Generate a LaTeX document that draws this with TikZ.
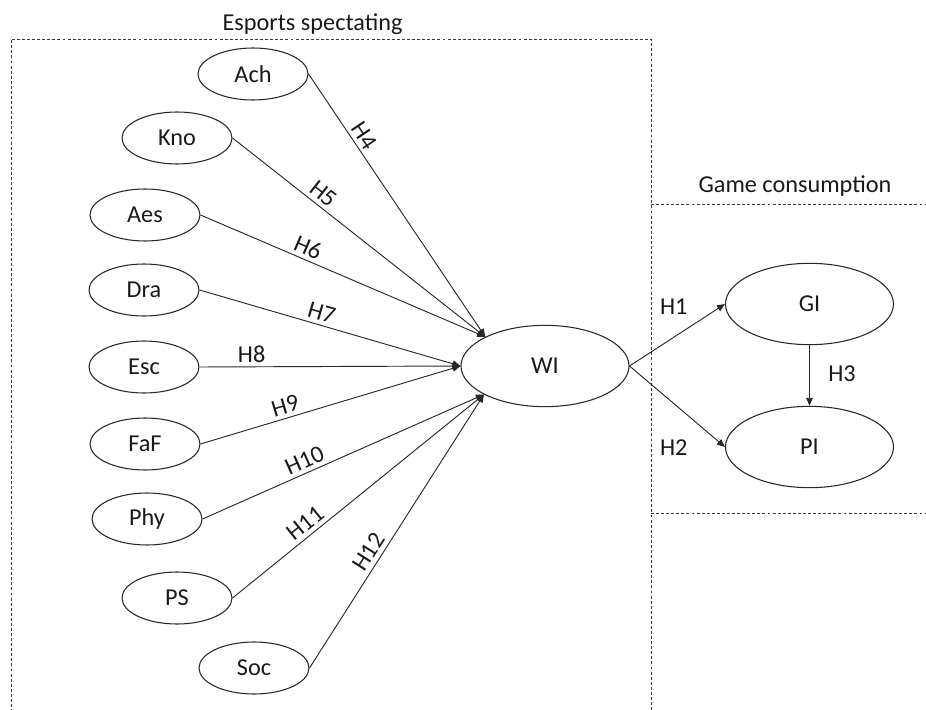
\documentclass[tikz,border=0pt]{standalone}
\usepackage{fontspec}
\setmainfont{Carlito}
\usetikzlibrary{shapes.geometric,arrows.meta}
\definecolor{linec}{RGB}{40,40,40}
\definecolor{boxc}{RGB}{60,60,60}
\definecolor{txtc}{RGB}{25,25,25}
\begin{document}
\begin{tikzpicture}[x=0.75pt,y=-0.75pt,
  font=\fontsize{18.2pt}{22pt}\selectfont, text=txtc,
  ell/.style={ellipse,draw=linec,line width=0.8pt,minimum width=82.5pt,minimum height=39pt,inner sep=0pt},
  bigell/.style={ell,minimum width=126pt,minimum height=61pt},
  conn/.style={draw=linec,line width=0.7pt,-{Triangle[length=6pt,width=5pt]}},
  hlab/.style={sloped,above,inner sep=3pt},
  boxline/.style={draw=boxc,line width=0.7pt,dash pattern=on 2.2pt off 1.6pt}]
\useasboundingbox (0,0) rectangle (926,710);

% dashed frames
\draw[boxline] (11,712) -- (11,39) -- (651,39) -- (651,712);
\draw[boxline] (651,204) -- (928,204);
\draw[boxline] (651,513) -- (928,513);
\node[anchor=base] (t1) at (312.5,31) {Esports spectating};
\node[anchor=base] (t2) at (795,193) {Game consumption};

% nodes
\node[ell] (ach) at (253,74) {Ach};
\node[ell] (kno) at (177,138) {Kno};
\node[ell] (aes) at (145,215) {Aes};
\node[ell] (dra) at (144,290) {Dra};
\node[ell] (esc) at (144,367) {Esc};
\node[ell] (faf) at (145,444) {FaF};
\node[ell] (phy) at (147,519) {Phy};
\node[ell] (ps) at (177,598) {PS};
\node[ell] (soc) at (254,668) {Soc};
\node[bigell] (wi) at (545,366) {WI};
\node[bigell] (gi) at (809.5,304) {GI};
\node[bigell] (pi) at (809.5,447) {PI};

% connectors
\draw[conn] (ach.east) -- node[hlab,pos=0.26]{H4} (wi.154.6);
\draw[conn] (kno.east) -- node[hlab,pos=0.33]{H5} (wi.154.6);
\draw[conn] (aes.east) -- node[hlab,pos=0.36]{H6} (wi.154.6);
\draw[conn] (dra.east) -- node[hlab,pos=0.455]{H7} (wi.west);
\draw[conn] (esc.east) -- node[hlab,pos=0.2]{H8} (wi.west);
\draw[conn] (faf.east) -- node[hlab,pos=0.34]{H9} (wi.west);
\draw[conn] (phy.east) -- node[hlab,pos=0.38]{H10} (wi.205.4);
\draw[conn] (ps.east) -- node[hlab,pos=0.32]{H11} (wi.205.4);
\draw[conn] (soc.east) -- node[hlab,pos=0.40]{H12} (wi.205.4);

\draw[conn] (wi.east) -- node[pos=0.464,yshift=23pt]{H1} (gi.west);
\draw[conn] (wi.east) -- node[pos=0.464,yshift=-33.4pt]{H2} (pi.west);
\draw[conn] (gi.south) -- node[xshift=24.4pt,yshift=1pt]{H3} (pi.north);
\end{tikzpicture}
\end{document}
